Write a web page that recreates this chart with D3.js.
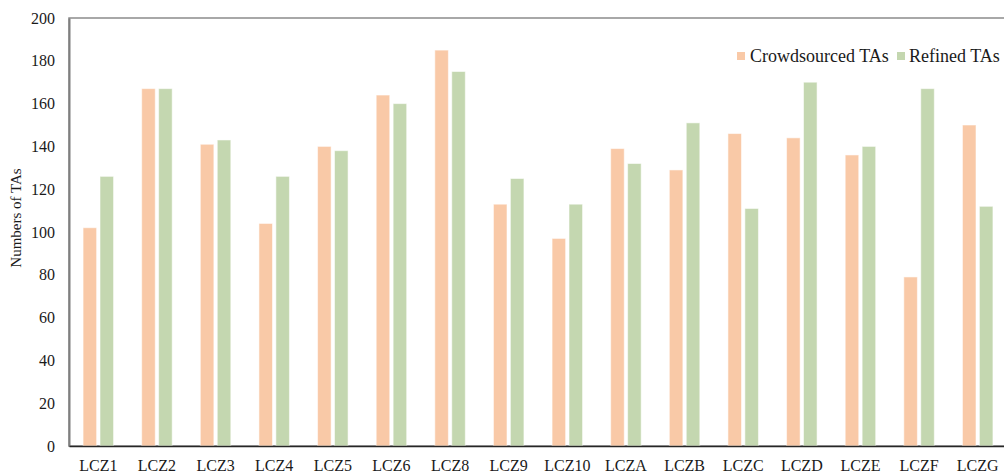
<!DOCTYPE html>
<html>
<head>
<meta charset="utf-8">
<script src="https://cdn.jsdelivr.net/npm/d3@7"></script>
<style>
  html, body { margin: 0; padding: 0; background: #fff; }
  svg { display: block; }
  text { font-family: "Liberation Serif", "Times New Roman", serif; fill: #1a1a1a; }
</style>
</head>
<body>
<svg id="chart" width="1004" height="474"></svg>
<script>
// Local climate zone classes
const categories = ["LCZ1","LCZ2","LCZ3","LCZ4","LCZ5","LCZ6","LCZ8","LCZ9","LCZ10",
                    "LCZA","LCZB","LCZC","LCZD","LCZE","LCZF","LCZG"];
// Number of training areas per class
const crowdsourced = [102,167,141,104,140,164,185,113,97,139,129,146,144,136,79,150];
const refined      = [126,167,143,126,138,160,175,125,113,132,151,111,170,140,167,112];
const seriesNames = ["Crowdsourced TAs","Refined TAs"];
const yTicks = [0,20,40,60,80,100,120,140,160,180,200];

const colors = { "Crowdsourced TAs": "#F9C9A7", "Refined TAs": "#C4D7B0" };

const svg = d3.select("#chart");
const plot = { left: 69, right: 1007, top: 18, bottom: 446 };

const x = d3.scaleBand().domain(categories).range([plot.left, plot.right]).paddingInner(0).paddingOuter(0);
const xs = d3.scaleBand().domain(seriesNames).range([0, x.bandwidth()])
  .paddingInner(0.2).paddingOuter(0.83);
const y = d3.scaleLinear().domain([0, 200]).range([plot.bottom, plot.top]);

// plot area frame
svg.append("rect")
  .attr("x", plot.left).attr("y", plot.top)
  .attr("width", plot.right - plot.left).attr("height", plot.bottom - plot.top)
  .attr("fill", "none").attr("stroke", "#8c8c8c").attr("stroke-width", 1.5);

const rows = categories.map((c, i) => ({ cat: c, vals: [
  { s: seriesNames[0], v: crowdsourced[i] },
  { s: seriesNames[1], v: refined[i] }
]}));

const g = svg.append("g").selectAll("g").data(rows).join("g")
  .attr("transform", d => `translate(${x(d.cat)},0)`);
g.selectAll("rect").data(d => d.vals).join("rect")
  .attr("x", d => xs(d.s))
  .attr("width", xs.bandwidth())
  .attr("y", d => y(d.v))
  .attr("height", d => y(0) - y(d.v))
  .attr("fill", d => colors[d.s])
  .attr("stroke", "rgba(255,255,255,0.55)")
  .attr("stroke-width", 1);

// y axis
const yAxis = svg.append("g")
  .attr("transform", `translate(${plot.left},0)`)
  .call(d3.axisLeft(y).tickValues(yTicks).tickSize(0).tickPadding(14));
yAxis.select(".domain").attr("stroke", "#7f7f7f").attr("stroke-width", 2);
yAxis.selectAll("text").style("font-size", "16px").attr("fill", "#1a1a1a")
  .style("font-family", "Liberation Serif, serif");

// x axis
const xAxis = svg.append("g")
  .attr("transform", `translate(0,${plot.bottom})`)
  .call(d3.axisBottom(x).tickSize(0).tickPadding(14));
xAxis.select(".domain").attr("stroke", "#262626").attr("stroke-width", 1.5);
xAxis.selectAll("text").style("font-size", "16px").attr("fill", "#1a1a1a")
  .style("font-family", "Liberation Serif, serif");

// y axis title
svg.append("text")
  .attr("transform", "translate(21,218) rotate(-90)")
  .attr("text-anchor", "middle")
  .style("font-size", "15px")
  .text("Numbers of TAs");

// legend
const legendItems = [
  { s: seriesNames[0], sx: 737, tx: 750 },
  { s: seriesNames[1], sx: 897, tx: 909 }
];
const lg = svg.append("g");
lg.selectAll("rect").data(legendItems).join("rect")
  .attr("x", d => d.sx).attr("y", 52).attr("width", 8).attr("height", 8)
  .attr("fill", d => colors[d.s]);
lg.selectAll("text").data(legendItems).join("text")
  .attr("x", d => d.tx).attr("y", 62)
  .style("font-size", "18px")
  .text(d => d.s);
</script>
</body>
</html>
